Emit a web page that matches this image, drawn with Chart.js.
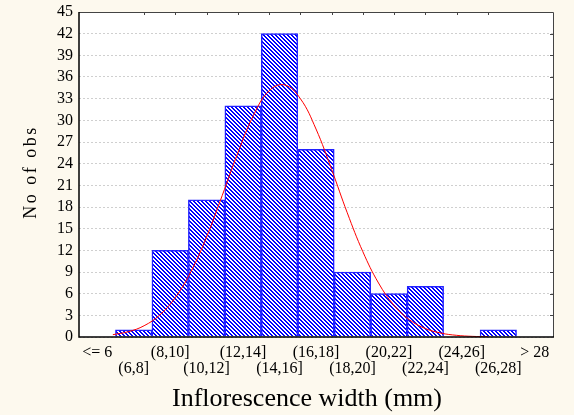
<!DOCTYPE html>
<html>
<head>
<meta charset="utf-8">
<script src="https://cdn.jsdelivr.net/npm/chart.js@4.4.1/dist/chart.umd.min.js"></script>
<style>
  html, body { margin: 0; padding: 0; background: #fdf9ee; }
  #wrap { width: 574px; height: 415px; }
</style>
</head>
<body>
<div id="wrap"><canvas id="histChart" width="574" height="415"></canvas></div>
<script>
// bins of inflorescence width (mm)
const categories = ['<= 6', '(6,8]', '(8,10]', '(10,12]', '(12,14]', '(14,16]', '(16,18]',
                    '(18,20]', '(20,22]', '(22,24]', '(24,26]', '(26,28]', '> 28'];
const counts = [0, 1, 12, 19, 32, 42, 26, 9, 6, 7, 0, 1, 0];

// fitted normal curve (width in mm -> expected obs)
const curveX = [4, 5, 6, 7, 8, 9, 10, 11, 12, 13, 14, 15, 16, 17, 18, 19, 20, 21, 22, 23, 24, 25, 26, 27, 28];
const curveY = [0.32, 0.74, 1.56, 3.04, 5.47, 9.07, 13.86, 19.6, 25.5, 30.7, 34.1, 34.9, 33.0,
                28.8, 23.2, 17.2, 11.8, 7.48, 4.36, 2.35, 1.17, 0.54, 0.23, 0.09, 0.03];

// axis ranges / ticks
const yMax = 45;
const yStep = 3;
const widthMin = 4;   // left edge of "<= 6" bin
const widthMax = 30;  // right edge of "> 28" bin
const binEdges = [6, 8, 10, 12, 14, 16, 18, 20, 22, 24, 26, 28];

const xTitle = 'Inflorescence width (mm)';
const yTitle = 'No of obs';

// diagonal blue hatch fill
function makeHatch() {
    const tile = document.createElement('canvas');
    tile.width = 4;
    tile.height = 4;
    const t = tile.getContext('2d');
    t.fillStyle = '#ffffff';
    t.fillRect(0, 0, 4, 4);
    t.fillStyle = '#0000ff';
    for (let i = 0; i < 4; i++) {
        t.fillRect(i, i, 1, 1);
        t.fillRect((i + 1) % 4, i, 1, 1);
    }
    return t.createPattern(tile, 'repeat');
}

const frame = {
    id: 'frame',
    beforeDraw(chart) {
        const { ctx, chartArea: a } = chart;
        ctx.save();
        ctx.fillStyle = '#fdf9ee';
        ctx.fillRect(0, 0, chart.width, chart.height);
        ctx.fillStyle = '#ffffff';
        ctx.fillRect(a.left, a.top, a.right - a.left, a.bottom - a.top);
        ctx.restore();
    },
    afterDraw(chart) {
        const { ctx, chartArea: a } = chart;
        const x2 = chart.scales.x2;
        const y = chart.scales.y;
        ctx.save();
        // top + right frame with inward ticks
        ctx.strokeStyle = '#444444';
        ctx.lineWidth = 1;
        ctx.beginPath();
        ctx.moveTo(a.left, a.top + 0.5);
        ctx.lineTo(a.right + 0.5, a.top + 0.5);
        ctx.lineTo(a.right + 0.5, a.bottom);
        binEdges.forEach(v => {
            const px = Math.round(x2.getPixelForValue(v)) + 0.5;
            ctx.moveTo(px, a.top);
            ctx.lineTo(px, a.top + 3);
        });
        for (let v = yStep; v < yMax; v += yStep) {
            const py = Math.round(y.getPixelForValue(v)) + 0.5;
            ctx.moveTo(a.right, py);
            ctx.lineTo(a.right - 3, py);
        }
        ctx.stroke();
        // left + bottom axes
        ctx.strokeStyle = '#000000';
        ctx.lineWidth = 1.5;
        ctx.beginPath();
        ctx.moveTo(a.left, a.top);
        ctx.lineTo(a.left, a.bottom);
        ctx.lineTo(a.right + 1, a.bottom);
        ctx.stroke();

        // axis titles
        ctx.fillStyle = '#000000';
        ctx.font = '26px "Liberation Serif"';
        ctx.textAlign = 'center';
        ctx.textBaseline = 'alphabetic';
        ctx.fillText(xTitle, 307, 406);

        ctx.translate(36, 172);
        ctx.rotate(-Math.PI / 2);
        ctx.font = '18px "Liberation Serif"';
        ctx.letterSpacing = '2.5px';
        ctx.fillText(yTitle, 0, 0);
        ctx.restore();
    }
};

const ctx = document.getElementById('histChart').getContext('2d');
new Chart(ctx, {
    type: 'bar',
    data: {
        labels: categories,
        datasets: [{
            type: 'line',
            label: 'Normal fit',
            xAxisID: 'x2',
            data: curveX.map((v, i) => ({ x: v, y: curveY[i] })),
            borderColor: '#ff0000',
            borderWidth: 1,
            pointRadius: 0,
            tension: 0.4,
            order: 0
        }, {
            label: 'No of obs',
            data: counts,
            backgroundColor: makeHatch(),
            borderColor: '#2222ff',
            borderWidth: 1.5,
            barPercentage: 1,
            categoryPercentage: 1,
            grouped: false,
            order: 1
        }]
    },
    options: {
        responsive: false,
        animation: false,
        devicePixelRatio: 1,
        layout: { padding: { top: 12, right: 21, left: 0, bottom: 0 } },
        plugins: {
            legend: { display: false },
            tooltip: { enabled: false }
        },
        scales: {
            x: {
                type: 'category',
                offset: true,
                grid: { display: false, drawTicks: false },
                border: { display: false },
                ticks: {
                    autoSkip: false,
                    maxRotation: 0,
                    padding: 8,
                    color: '#000000',
                    font: { family: '"Liberation Serif"', size: 16, lineHeight: 1 },
                    callback: (v, i) => i % 2 ? ['', categories[i]] : [categories[i], '']
                },
                afterFit: s => { s.height = 78; }
            },
            x2: {
                type: 'linear',
                display: false,
                min: widthMin,
                max: widthMax
            },
            y: {
                min: 0,
                max: yMax,
                grid: {
                    color: '#cfcfcf',
                    drawTicks: false
                },
                border: { display: false, dash: [2, 2] },
                ticks: {
                    stepSize: yStep,
                    autoSkip: false,
                    padding: 6,
                    color: '#000000',
                    font: { family: '"Liberation Serif"', size: 16, lineHeight: 0.6 }
                },
                afterFit: s => { s.width = 79; }
            }
        }
    },
    plugins: [frame]
});
</script>
</body>
</html>
